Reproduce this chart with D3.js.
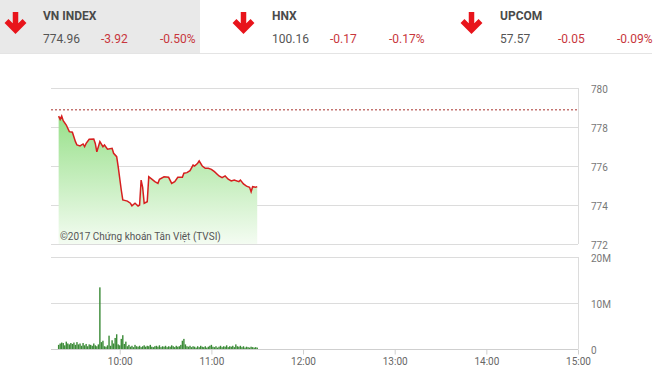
<!DOCTYPE html>
<html>
<head>
<meta charset="utf-8">
<script src="https://cdnjs.cloudflare.com/ajax/libs/d3/7.8.5/d3.min.js"></script>
<style>
  body { margin: 0; background: #fff; font-family: Roboto, "Noto Sans", sans-serif; }
  svg text { font-family: Roboto, "Noto Sans", sans-serif; }
</style>
</head>
<body>
<svg id="chart"></svg>
<script>
let width = 660
let height = 375

// header indices
let indexNames = ['VN INDEX', 'HNX', 'UPCOM']
let indexValues = ['774.96', '100.16', '57.57']
let indexChanges = ['-3.92', '-0.17', '-0.05']
let indexPercents = ['-0.50%', '-0.17%', '-0.09%']

// intraday VN-Index
let priceTimes = ['9:20','9:21','9:22','9:23','9:25','9:27','9:29','9:31','9:32','9:34','9:36','9:37','9:38','9:40','9:43','9:44','9:45','9:46','9:47','9:49','9:50','9:52','9:55','9:56','9:58','9:59',
  '10:01','10:02','10:05','10:07','10:08','10:10','10:12','10:13','10:14','10:15','10:16','10:18','10:19','10:21','10:23','10:25','10:26','10:29','10:32','10:34','10:36','10:38','10:41','10:42','10:44','10:46','10:48','10:49','10:51','10:52','10:54','10:56','10:58',
  '11:00','11:02','11:05','11:07','11:09','11:11','11:13','11:15','11:18','11:19','11:21','11:23','11:25','11:26','11:27','11:29','11:30']
let priceValues = [778.56,778.39,778.56,778.32,778.10,777.76,777.73,777.25,777.08,777.03,777.13,776.99,777.16,777.37,777.38,777.16,776.73,776.99,777.25,776.99,777.08,776.86,776.91,776.65,776.48,775.96,
  774.77,774.26,774.20,774.09,773.96,774.09,773.95,774.00,775.28,774.91,774.09,774.17,775.45,775.33,775.20,775.11,775.32,775.45,775.42,775.11,775.20,775.42,775.42,775.63,775.66,775.76,776.05,776.00,776.14,776.26,776.00,775.88,775.88,
  775.83,775.71,775.49,775.40,775.49,775.32,775.23,775.28,775.20,775.28,775.08,774.97,774.91,774.68,774.94,774.91,774.94]
let prevClose = 778.88

// volume per minute from 9:20 (millions)
let volumeStart = '9:20'
let volumeValues = [0.9,1.2,1.4,1.3,0.8,1.6,1.2,1.0,1.3,1.1,1.4,0.9,1.5,1.0,1.2,0.7,1.3,0.8,1.1,0.6,1.0,0.9,0.7,1.2,0.8,0.6,1.0,
  13.4,
  1.5,1.8,0.6,0.5,0.8,2.9,0.7,1.9,1.2,2.4,3.2,1.0,0.8,
  2.2,3.0,1.1,1.6,0.6,0.9,0.5,0.7,0.4,0.9,
  0.6,0.5,0.7,0.4,0.6,0.8,0.5,0.7,0.6,0.9,0.5,0.4,0.6,0.7,0.5,0.8,0.4,0.6,0.5,0.7,0.4,0.6,0.5,0.8,0.6,0.4,0.7,0.5,0.6,0.9,
  1.8,2.2,1.0,0.6,
  0.5,0.7,0.4,0.6,0.5,0.3,0.6,0.4,0.7,0.5,0.4,0.6,0.3,0.5,0.7,0.9,0.5,0.4,0.6,0.3,0.5,0.7,0.4,0.6,0.5,0.8,0.4,0.6,0.5,0.7,0.4,1.0,0.6,0.5,0.7,0.4,0.6,0.3,0.5,0.4,0.3,0.5,0.4,0.3,0.4,0.3]

let priceTicks = [772, 774, 776, 778, 780]
let volumeTicks = [0, 10, 20]
let timeTicks = ['10:00', '11:00', '12:00', '13:00', '14:00', '15:00']

let parseTime = (s) => {
    let p = s.split(':')
    return new Date(2017, 6, 20, +p[0], +p[1])
}

let svg = d3.select('#chart')
    .attr('width', width)
    .attr('height', height)

// ---- header ----
let cellX = [0, 229, 457]
svg.append('rect')
    .attr('x', 0).attr('y', 0)
    .attr('width', 200).attr('height', 53)
    .attr('fill', '#e9e9e9')

svg.append('line')
    .attr('x1', 0).attr('x2', 652)
    .attr('y1', 53.5).attr('y2', 53.5)
    .attr('stroke', '#e4e4e4')

indexNames.forEach((name, i) => {
    let g = svg.append('g').attr('transform', 'translate(' + cellX[i] + ',0)')
    let ax = i === 0 ? 15.5 : 14.5
    g.append('path')
        .attr('d', 'M' + ax + ' 12 V30 M' + (ax - 9) + ' 21 L' + ax + ' 30 L' + (ax + 9) + ' 21')
        .attr('fill', 'none')
        .attr('stroke', '#e8141b')
        .attr('stroke-width', 5.5)
    let tx = 43
    g.append('text')
        .attr('x', tx).attr('y', 20)
        .attr('font-size', 12)
        .attr('font-weight', 'bold')
        .attr('fill', '#4a4a4a')
        .text(name)
    g.append('text')
        .attr('x', tx).attr('y', 43)
        .attr('font-size', 12)
        .attr('fill', '#555')
        .text(indexValues[i])
    g.append('text')
        .attr('x', tx + 58).attr('y', 43)
        .attr('font-size', 12)
        .attr('fill', '#c8363c')
        .text(indexChanges[i])
    g.append('text')
        .attr('x', tx + 117).attr('y', 43)
        .attr('font-size', 12)
        .attr('fill', '#c8363c')
        .text(indexPercents[i])
})

// ---- scales ----
let xScale = d3.scaleTime()
    .domain([parseTime('9:15'), parseTime('15:00')])
    .range([51, 578])

let yScale = d3.scaleLinear()
    .domain([772, 780])
    .range([244, 88])

let vScale = d3.scaleLinear()
    .domain([0, 20])
    .range([349, 257])

let prices = priceTimes.map((t, i) => ({ time: parseTime(t), value: priceValues[i] }))
let t0 = parseTime(volumeStart)
let volumes = volumeValues.map((v, i) => ({ time: new Date(t0.getTime() + i * 60000), value: v }))

// ---- price panel ----
let defs = svg.append('defs')
let grad = defs.append('linearGradient')
    .attr('id', 'areaGrad')
    .attr('x1', 0).attr('y1', 0).attr('x2', 0).attr('y2', 1)
grad.append('stop').attr('offset', '0%').attr('stop-color', '#98e08a')
grad.append('stop').attr('offset', '100%').attr('stop-color', '#f4fcf2')

svg.append('g')
    .selectAll('line')
    .data(priceTicks)
    .enter()
    .append('line')
    .attr('x1', 51).attr('x2', 578)
    .attr('y1', (d) => yScale(d) + 0.5)
    .attr('y2', (d) => yScale(d) + 0.5)
    .attr('stroke', '#dcdcdc')

svg.append('line')
    .attr('x1', 578.5).attr('x2', 578.5)
    .attr('y1', yScale(780)).attr('y2', yScale(772))
    .attr('stroke', '#dcdcdc')

let area = d3.area()
    .x((d) => xScale(d.time))
    .y0(yScale(772))
    .y1((d) => yScale(d.value))

svg.append('path')
    .datum(prices)
    .attr('d', area)
    .attr('fill', 'url(#areaGrad)')

let line = d3.line()
    .x((d) => xScale(d.time))
    .y((d) => yScale(d.value))

svg.append('path')
    .datum(prices)
    .attr('d', line)
    .attr('fill', 'none')
    .attr('stroke', '#d61f1f')
    .attr('stroke-width', 1.5)

svg.append('line')
    .attr('x1', 51).attr('x2', 578)
    .attr('y1', yScale(prevClose)).attr('y2', yScale(prevClose))
    .attr('stroke', '#a8322e')
    .attr('stroke-dasharray', '2,2')

let yAxis = d3.axisRight(yScale)
    .tickValues(priceTicks)
    .tickSize(0)
    .tickPadding(0)
let yg = svg.append('g')
    .attr('transform', 'translate(591,1)')
    .call(yAxis)
yg.select('.domain').remove()
yg.selectAll('text').attr('font-size', 10).attr('fill', '#777')

svg.append('text')
    .attr('x', 60).attr('y', 240)
    .attr('font-size', 10)
    .attr('fill', '#555')
    .text('©2017 Chứng khoán Tân Việt (TVSI)')

// ---- volume panel ----
svg.append('g')
    .selectAll('line')
    .data(volumeTicks)
    .enter()
    .append('line')
    .attr('x1', 51).attr('x2', 578)
    .attr('y1', (d) => vScale(d) + 0.5)
    .attr('y2', (d) => vScale(d) + 0.5)
    .attr('stroke', (d) => d === 0 ? '#cfcfcf' : '#dcdcdc')

svg.append('line')
    .attr('x1', 578.5).attr('x2', 578.5)
    .attr('y1', vScale(20)).attr('y2', vScale(0))
    .attr('stroke', '#dcdcdc')

svg.append('g')
    .selectAll('rect')
    .data(volumes)
    .enter()
    .append('rect')
    .attr('x', (d) => xScale(d.time) - 0.7)
    .attr('width', 1.4)
    .attr('y', (d) => vScale(d.value))
    .attr('height', (d) => vScale(0) - vScale(d.value))
    .attr('fill', '#3a8a36')

let vAxis = d3.axisRight(vScale)
    .tickValues(volumeTicks)
    .tickSize(0)
    .tickPadding(0)
    .tickFormat((d) => d === 0 ? '0' : d + 'M')
let vg = svg.append('g')
    .attr('transform', 'translate(591,1)')
    .call(vAxis)
vg.select('.domain').remove()
vg.selectAll('text').attr('font-size', 10).attr('fill', '#777')

let xAxis = d3.axisBottom(xScale)
    .tickValues(timeTicks.map(parseTime))
    .tickSize(5)
    .tickPadding(3)
    .tickFormat(d3.timeFormat('%H:%M'))
let xg = svg.append('g')
    .attr('transform', 'translate(0,' + (vScale(0) + 0.5) + ')')
    .call(xAxis)
xg.select('.domain').remove()
xg.selectAll('line').attr('stroke', '#cfcfcf')
xg.selectAll('text').attr('font-size', 10).attr('fill', '#666')
</script>
</body>
</html>
